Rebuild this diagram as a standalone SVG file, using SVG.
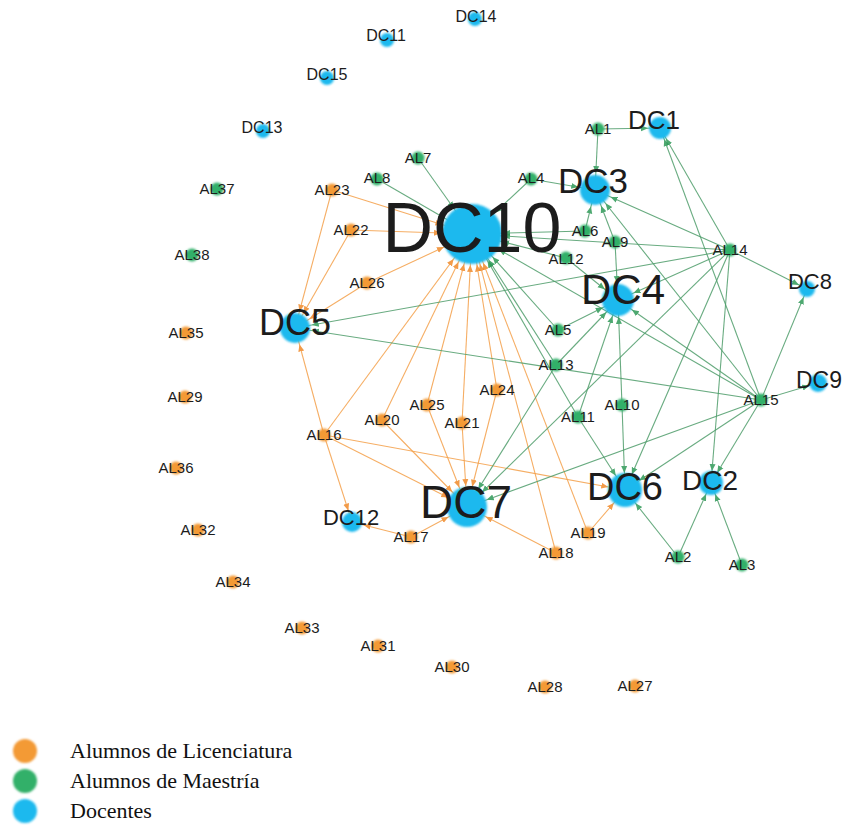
<svg xmlns="http://www.w3.org/2000/svg" width="844" height="831" viewBox="0 0 844 831">
<style>
.eo{stroke:#f4a04a;stroke-width:1.1;fill:none;opacity:.85}
.eg{stroke:#4f9d6b;stroke-width:1.1;fill:none;opacity:.85}
.lic{fill:#f39a35}
.mae{fill:#33b069}
.doc{fill:#1cb9ee}
circle{filter:url(#soft)}
text{font-family:"Liberation Sans",Arial,sans-serif;fill:#1c1c1c;text-anchor:middle}
.al{font-size:15px}
.leg{font-family:"Liberation Serif","Times New Roman",serif;font-size:22px;text-anchor:start;fill:#111}
</style>
<defs>
<filter id="soft" x="-30%" y="-30%" width="160%" height="160%"><feGaussianBlur stdDeviation="0.9"/></filter>
<marker id="o30" markerUnits="userSpaceOnUse" viewBox="0 -4 38 8" markerWidth="38" markerHeight="8" refX="38" refY="0" orient="auto"><path d="M0,-3L7,0L0,3z" fill="#f08a2a"/></marker>
<marker id="o20" markerUnits="userSpaceOnUse" viewBox="0 -4 28 8" markerWidth="28" markerHeight="8" refX="28" refY="0" orient="auto"><path d="M0,-3L7,0L0,3z" fill="#f08a2a"/></marker>
<marker id="o16" markerUnits="userSpaceOnUse" viewBox="0 -4 24 8" markerWidth="24" markerHeight="8" refX="24" refY="0" orient="auto"><path d="M0,-3L7,0L0,3z" fill="#f08a2a"/></marker>
<marker id="o11" markerUnits="userSpaceOnUse" viewBox="0 -4 19 8" markerWidth="19" markerHeight="8" refX="19" refY="0" orient="auto"><path d="M0,-3L7,0L0,3z" fill="#f08a2a"/></marker>
<marker id="g30" markerUnits="userSpaceOnUse" viewBox="0 -4 38 8" markerWidth="38" markerHeight="8" refX="38" refY="0" orient="auto"><path d="M0,-3L7,0L0,3z" fill="#2f9a58"/></marker>
<marker id="g20" markerUnits="userSpaceOnUse" viewBox="0 -4 28 8" markerWidth="28" markerHeight="8" refX="28" refY="0" orient="auto"><path d="M0,-3L7,0L0,3z" fill="#2f9a58"/></marker>
<marker id="g16" markerUnits="userSpaceOnUse" viewBox="0 -4 24 8" markerWidth="24" markerHeight="8" refX="24" refY="0" orient="auto"><path d="M0,-3L7,0L0,3z" fill="#2f9a58"/></marker>
<marker id="g11" markerUnits="userSpaceOnUse" viewBox="0 -4 19 8" markerWidth="19" markerHeight="8" refX="19" refY="0" orient="auto"><path d="M0,-3L7,0L0,3z" fill="#2f9a58"/></marker>
<marker id="g8" markerUnits="userSpaceOnUse" viewBox="0 -4 16 8" markerWidth="16" markerHeight="8" refX="16" refY="0" orient="auto"><path d="M0,-3L7,0L0,3z" fill="#2f9a58"/></marker>
</defs>
<rect width="844" height="831" fill="#fff"/>
<g id="connectors">
<line class="eo" x1="332" y1="190" x2="472" y2="234" marker-end="url(#o30)"/>
<line class="eo" x1="332" y1="190" x2="295" y2="328" marker-end="url(#o16)"/>
<line class="eo" x1="351" y1="230" x2="472" y2="234" marker-end="url(#o30)"/>
<line class="eo" x1="351" y1="230" x2="295" y2="328" marker-end="url(#o16)"/>
<line class="eo" x1="367" y1="283" x2="472" y2="234" marker-end="url(#o30)"/>
<line class="eo" x1="367" y1="283" x2="295" y2="328" marker-end="url(#o16)"/>
<line class="eo" x1="324" y1="435" x2="295" y2="328" marker-end="url(#o16)"/>
<line class="eo" x1="324" y1="435" x2="472" y2="234" marker-end="url(#o30)"/>
<line class="eo" x1="324" y1="435" x2="352" y2="522" marker-end="url(#o11)"/>
<line class="eo" x1="324" y1="435" x2="467" y2="507" marker-end="url(#o20)"/>
<line class="eo" x1="324" y1="435" x2="625" y2="490" marker-end="url(#o16)"/>
<line class="eo" x1="382" y1="420" x2="472" y2="234" marker-end="url(#o30)"/>
<line class="eo" x1="382" y1="420" x2="467" y2="507" marker-end="url(#o20)"/>
<line class="eo" x1="427" y1="405" x2="472" y2="234" marker-end="url(#o30)"/>
<line class="eo" x1="427" y1="405" x2="467" y2="507" marker-end="url(#o20)"/>
<line class="eo" x1="462" y1="423" x2="472" y2="234" marker-end="url(#o30)"/>
<line class="eo" x1="462" y1="423" x2="467" y2="507" marker-end="url(#o20)"/>
<line class="eo" x1="497" y1="390" x2="472" y2="234" marker-end="url(#o30)"/>
<line class="eo" x1="497" y1="390" x2="467" y2="507" marker-end="url(#o20)"/>
<line class="eo" x1="411" y1="537" x2="467" y2="507" marker-end="url(#o20)"/>
<line class="eo" x1="411" y1="537" x2="352" y2="522" marker-end="url(#o11)"/>
<line class="eo" x1="556" y1="553" x2="467" y2="507" marker-end="url(#o20)"/>
<line class="eo" x1="556" y1="553" x2="472" y2="234" marker-end="url(#o30)"/>
<line class="eo" x1="588" y1="533" x2="625" y2="490" marker-end="url(#o16)"/>
<line class="eo" x1="588" y1="533" x2="472" y2="234" marker-end="url(#o30)"/>
<line class="eg" x1="598" y1="129" x2="660" y2="128" marker-end="url(#g11)"/>
<line class="eg" x1="598" y1="129" x2="595" y2="190" marker-end="url(#g16)"/>
<line class="eg" x1="418" y1="158" x2="472" y2="234" marker-end="url(#g30)"/>
<line class="eg" x1="377" y1="179" x2="472" y2="234" marker-end="url(#g30)"/>
<line class="eg" x1="531" y1="179" x2="472" y2="234" marker-end="url(#g30)"/>
<line class="eg" x1="531" y1="179" x2="595" y2="190" marker-end="url(#g16)"/>
<line class="eg" x1="585" y1="231" x2="595" y2="190" marker-end="url(#g16)"/>
<line class="eg" x1="585" y1="231" x2="472" y2="234" marker-end="url(#g30)"/>
<line class="eg" x1="615" y1="242" x2="595" y2="190" marker-end="url(#g16)"/>
<line class="eg" x1="615" y1="242" x2="618" y2="300" marker-end="url(#g16)"/>
<line class="eg" x1="566" y1="258" x2="472" y2="234" marker-end="url(#g30)"/>
<line class="eg" x1="566" y1="258" x2="618" y2="300" marker-end="url(#g16)"/>
<line class="eg" x1="730" y1="250" x2="660" y2="128" marker-end="url(#g11)"/>
<line class="eg" x1="730" y1="250" x2="595" y2="190" marker-end="url(#g16)"/>
<line class="eg" x1="730" y1="250" x2="618" y2="300" marker-end="url(#g16)"/>
<line class="eg" x1="730" y1="250" x2="807" y2="289" marker-end="url(#g8)"/>
<line class="eg" x1="730" y1="250" x2="472" y2="234" marker-end="url(#g30)"/>
<line class="eg" x1="730" y1="250" x2="295" y2="328" marker-end="url(#g16)"/>
<line class="eg" x1="730" y1="250" x2="625" y2="490" marker-end="url(#g16)"/>
<line class="eg" x1="730" y1="250" x2="711" y2="483" marker-end="url(#g11)"/>
<line class="eg" x1="730" y1="250" x2="467" y2="507" marker-end="url(#g20)"/>
<line class="eg" x1="761" y1="400" x2="660" y2="128" marker-end="url(#g11)"/>
<line class="eg" x1="761" y1="400" x2="595" y2="190" marker-end="url(#g16)"/>
<line class="eg" x1="761" y1="400" x2="618" y2="300" marker-end="url(#g16)"/>
<line class="eg" x1="761" y1="400" x2="818" y2="383" marker-end="url(#g8)"/>
<line class="eg" x1="761" y1="400" x2="807" y2="289" marker-end="url(#g8)"/>
<line class="eg" x1="761" y1="400" x2="295" y2="328" marker-end="url(#g16)"/>
<line class="eg" x1="761" y1="400" x2="625" y2="490" marker-end="url(#g16)"/>
<line class="eg" x1="761" y1="400" x2="711" y2="483" marker-end="url(#g11)"/>
<line class="eg" x1="761" y1="400" x2="467" y2="507" marker-end="url(#g20)"/>
<line class="eg" x1="761" y1="400" x2="472" y2="234" marker-end="url(#g30)"/>
<line class="eg" x1="558" y1="330" x2="618" y2="300" marker-end="url(#g16)"/>
<line class="eg" x1="558" y1="330" x2="472" y2="234" marker-end="url(#g30)"/>
<line class="eg" x1="556" y1="365" x2="618" y2="300" marker-end="url(#g16)"/>
<line class="eg" x1="556" y1="365" x2="467" y2="507" marker-end="url(#g20)"/>
<line class="eg" x1="556" y1="365" x2="472" y2="234" marker-end="url(#g30)"/>
<line class="eg" x1="578" y1="417" x2="472" y2="234" marker-end="url(#g30)"/>
<line class="eg" x1="578" y1="417" x2="625" y2="490" marker-end="url(#g16)"/>
<line class="eg" x1="578" y1="417" x2="618" y2="300" marker-end="url(#g16)"/>
<line class="eg" x1="622" y1="405" x2="618" y2="300" marker-end="url(#g16)"/>
<line class="eg" x1="622" y1="405" x2="625" y2="490" marker-end="url(#g16)"/>
<line class="eg" x1="678" y1="557" x2="625" y2="490" marker-end="url(#g16)"/>
<line class="eg" x1="678" y1="557" x2="711" y2="483" marker-end="url(#g11)"/>
<line class="eg" x1="742" y1="565" x2="711" y2="483" marker-end="url(#g11)"/>
</g>
<g id="DC10"><circle class="doc" cx="472" cy="234" r="30"/><text x="472" y="252" font-size="70">DC10</text></g>
<g id="DC3"><circle class="doc" cx="595" cy="190" r="15"/><text x="593" y="193" font-size="35">DC3</text></g>
<g id="DC1"><circle class="doc" cx="660" cy="128" r="11"/><text x="654" y="129" font-size="26">DC1</text></g>
<g id="DC4"><circle class="doc" cx="618" cy="300" r="16"/><text x="623" y="304" font-size="42">DC4</text></g>
<g id="DC8"><circle class="doc" cx="807" cy="289" r="8"/><text x="810" y="289" font-size="22">DC8</text></g>
<g id="DC9"><circle class="doc" cx="818" cy="383" r="9"/><text x="819" y="388" font-size="23">DC9</text></g>
<g id="DC5"><circle class="doc" cx="295" cy="328" r="15"/><text x="295" y="335" font-size="36">DC5</text></g>
<g id="DC7"><circle class="doc" cx="467" cy="507" r="20"/><text x="466" y="518" font-size="46">DC7</text></g>
<g id="DC6"><circle class="doc" cx="625" cy="490" r="17"/><text x="625" y="500" font-size="38">DC6</text></g>
<g id="DC2"><circle class="doc" cx="711" cy="483" r="12"/><text x="710" y="490" font-size="28">DC2</text></g>
<g id="DC12"><circle class="doc" cx="352" cy="522" r="10"/><text x="351" y="525" font-size="22">DC12</text></g>
<g id="DC14"><circle class="doc" cx="475" cy="19" r="7"/><text x="476" y="22" font-size="16">DC14</text></g>
<g id="DC11"><circle class="doc" cx="387" cy="40" r="7"/><text x="386" y="41" font-size="16">DC11</text></g>
<g id="DC15"><circle class="doc" cx="327" cy="78" r="7"/><text x="327" y="80" font-size="16">DC15</text></g>
<g id="DC13"><circle class="doc" cx="263" cy="131" r="7"/><text x="262" y="133" font-size="16">DC13</text></g>
<g id="AL1"><circle class="mae" cx="598" cy="129" r="6.5"/><text class="al" x="598" y="134">AL1</text></g>
<g id="AL7"><circle class="mae" cx="418" cy="158" r="6.5"/><text class="al" x="418" y="163">AL7</text></g>
<g id="AL8"><circle class="mae" cx="377" cy="179" r="6.5"/><text class="al" x="377" y="183">AL8</text></g>
<g id="AL4"><circle class="mae" cx="531" cy="179" r="6.5"/><text class="al" x="531" y="183">AL4</text></g>
<g id="AL6"><circle class="mae" cx="585" cy="231" r="6.5"/><text class="al" x="585" y="236">AL6</text></g>
<g id="AL9"><circle class="mae" cx="615" cy="242" r="6.5"/><text class="al" x="615" y="247">AL9</text></g>
<g id="AL12"><circle class="mae" cx="566" cy="258" r="6.5"/><text class="al" x="566" y="264">AL12</text></g>
<g id="AL14"><circle class="mae" cx="730" cy="250" r="6.5"/><text class="al" x="730" y="255">AL14</text></g>
<g id="AL5"><circle class="mae" cx="558" cy="330" r="6.5"/><text class="al" x="558" y="335">AL5</text></g>
<g id="AL13"><circle class="mae" cx="556" cy="365" r="6.5"/><text class="al" x="556" y="370">AL13</text></g>
<g id="AL11"><circle class="mae" cx="578" cy="417" r="6.5"/><text class="al" x="578" y="422">AL11</text></g>
<g id="AL10"><circle class="mae" cx="622" cy="405" r="6.5"/><text class="al" x="622" y="410">AL10</text></g>
<g id="AL15"><circle class="mae" cx="761" cy="400" r="6.5"/><text class="al" x="761" y="405">AL15</text></g>
<g id="AL2"><circle class="mae" cx="678" cy="557" r="6.5"/><text class="al" x="678" y="562">AL2</text></g>
<g id="AL3"><circle class="mae" cx="742" cy="565" r="6.5"/><text class="al" x="742" y="570">AL3</text></g>
<g id="AL37"><circle class="mae" cx="217" cy="189" r="6.5"/><text class="al" x="217" y="194">AL37</text></g>
<g id="AL38"><circle class="mae" cx="192" cy="255" r="6.5"/><text class="al" x="192" y="260">AL38</text></g>
<g id="AL23"><circle class="lic" cx="332" cy="190" r="6.5"/><text class="al" x="332" y="195">AL23</text></g>
<g id="AL22"><circle class="lic" cx="351" cy="230" r="6.5"/><text class="al" x="351" y="235">AL22</text></g>
<g id="AL26"><circle class="lic" cx="367" cy="283" r="6.5"/><text class="al" x="367" y="288">AL26</text></g>
<g id="AL16"><circle class="lic" cx="324" cy="435" r="6.5"/><text class="al" x="324" y="440">AL16</text></g>
<g id="AL20"><circle class="lic" cx="382" cy="420" r="6.5"/><text class="al" x="382" y="425">AL20</text></g>
<g id="AL25"><circle class="lic" cx="427" cy="405" r="6.5"/><text class="al" x="427" y="410">AL25</text></g>
<g id="AL21"><circle class="lic" cx="462" cy="423" r="6.5"/><text class="al" x="462" y="428">AL21</text></g>
<g id="AL24"><circle class="lic" cx="497" cy="390" r="6.5"/><text class="al" x="497" y="395">AL24</text></g>
<g id="AL17"><circle class="lic" cx="411" cy="537" r="6.5"/><text class="al" x="411" y="542">AL17</text></g>
<g id="AL18"><circle class="lic" cx="556" cy="553" r="6.5"/><text class="al" x="556" y="558">AL18</text></g>
<g id="AL19"><circle class="lic" cx="588" cy="533" r="6.5"/><text class="al" x="588" y="538">AL19</text></g>
<g id="AL35"><circle class="lic" cx="186" cy="333" r="6.5"/><text class="al" x="186" y="338">AL35</text></g>
<g id="AL29"><circle class="lic" cx="185" cy="397" r="6.5"/><text class="al" x="185" y="402">AL29</text></g>
<g id="AL36"><circle class="lic" cx="176" cy="468" r="6.5"/><text class="al" x="176" y="473">AL36</text></g>
<g id="AL32"><circle class="lic" cx="198" cy="530" r="6.5"/><text class="al" x="198" y="535">AL32</text></g>
<g id="AL34"><circle class="lic" cx="233" cy="582" r="6.5"/><text class="al" x="233" y="587">AL34</text></g>
<g id="AL33"><circle class="lic" cx="302" cy="628" r="6.5"/><text class="al" x="302" y="633">AL33</text></g>
<g id="AL31"><circle class="lic" cx="378" cy="646" r="6.5"/><text class="al" x="378" y="651">AL31</text></g>
<g id="AL30"><circle class="lic" cx="452" cy="667" r="6.5"/><text class="al" x="452" y="672">AL30</text></g>
<g id="AL28"><circle class="lic" cx="545" cy="687" r="6.5"/><text class="al" x="545" y="692">AL28</text></g>
<g id="AL27"><circle class="lic" cx="635" cy="686" r="6.5"/><text class="al" x="635" y="691">AL27</text></g>
<g id="legend">
<circle class="lic" cx="25" cy="751" r="12"/><text class="leg" x="70" y="758">Alumnos de Licenciatura</text>
<circle class="mae" cx="25" cy="781" r="12"/><text class="leg" x="70" y="788">Alumnos de Maestría</text>
<circle class="doc" cx="25" cy="811" r="12"/><text class="leg" x="70" y="818">Docentes</text>
</g>
</svg>
